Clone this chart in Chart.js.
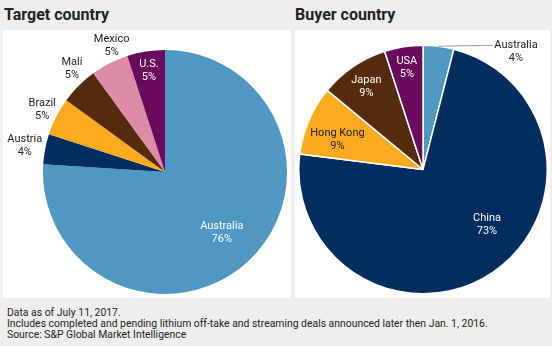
<!DOCTYPE html>
<html>
<head>
<meta charset="utf-8">
<script src="https://cdn.jsdelivr.net/npm/chart.js@4"></script>
<style>
    body {
        margin: 0;
        width: 552px;
        height: 346px;
        background: #eeeeee;
        font-family: Roboto, sans-serif;
        color: #1c1c1c;
        position: relative;
        overflow: hidden;
    }
    .title {
        position: absolute;
        top: 7px;
        font-size: 16px;
        line-height: 16px;
        font-weight: bold;
        color: #222;
    }
    .panel {
        position: absolute;
        top: 30px;
        height: 268px;
        background: #fff;
    }
    .footer {
        position: absolute;
        left: 7px;
        top: 307px;
        font-size: 10.4px;
        line-height: 11px;
        color: #1c1c1c;
    }
</style>
</head>
<body>
<div class="title" style="left: 4px;">Target country</div>
<div class="title" style="left: 295px;">Buyer country</div>
<div class="panel" style="left: 3px; width: 288px;"><canvas id="target-chart" width="288" height="268"></canvas></div>
<div class="panel" style="left: 295px; width: 255px;"><canvas id="buyer-chart" width="255" height="268"></canvas></div>
<div class="footer">
    Data as of July 11, 2017.<br>
    Includes completed and pending lithium off-take and streaming deals announced later then Jan. 1, 2016.<br>
    Source: S&amp;P Global Market Intelligence
</div>

<script>
const targetCountries = ['Australia', 'Austria', 'Brazil', 'Mali', 'Mexico', 'U.S.'];
const targetShares = [76, 4, 5, 5, 5, 5];

const buyerCountries = ['Australia', 'China', 'Hong Kong', 'Japan', 'USA'];
const buyerShares = [4, 73, 9, 9, 5];

const BLUE = '#4f98c4';
const NAVY = '#022d5f';
const ORANGE = '#fcab1f';
const BROWN = '#552a0d';
const PINK = '#de8ba8';
const PURPLE = '#6a0a5c';

// label placement per slice: distance from centre (x radius), extra turn in degrees, text colour
const targetLabelStyle = [
    { dist: 0.68, turn: 0, color: '#fff' },
    { dist: 1.17, turn: 0, color: '#1c1c1c' },
    { dist: 1.13, turn: 0, color: '#1c1c1c' },
    { dist: 1.14, turn: 3, color: '#1c1c1c' },
    { dist: 1.12, turn: 4, color: '#1c1c1c' },
    { dist: 0.84, turn: 0, color: '#fff' },
];
const buyerLabelStyle = [
    { dist: 1.21, turn: 31, color: '#1c1c1c', leader: true },
    { dist: 0.68, turn: -15, color: '#fff' },
    { dist: 0.73, turn: -4, color: '#1c1c1c' },
    { dist: 0.81, turn: 0, color: '#fff' },
    { dist: 0.83, turn: 0, color: '#fff' },
];

const sliceLabels = {
    id: 'sliceLabels',
    afterDatasetsDraw(chart, args, opts) {
        const ctx = chart.ctx;
        const meta = chart.getDatasetMeta(0);
        const values = chart.data.datasets[0].data;
        ctx.save();
        ctx.font = '11px Roboto, sans-serif';
        ctx.textAlign = 'center';
        ctx.textBaseline = 'middle';
        meta.data.forEach((arc, i) => {
            const p = arc.getProps(['x', 'y', 'startAngle', 'endAngle', 'outerRadius'], true);
            const st = opts.styles[i];
            const mid = (p.startAngle + p.endAngle) / 2;
            const a = mid + st.turn * Math.PI / 180;
            const lx = p.x + Math.cos(a) * p.outerRadius * st.dist;
            const ly = p.y + Math.sin(a) * p.outerRadius * st.dist;
            const name = chart.data.labels[i];
            if (st.leader) {
                const w = ctx.measureText(name).width;
                ctx.strokeStyle = '#9a9a9a';
                ctx.lineWidth = 1;
                ctx.beginPath();
                ctx.moveTo(p.x + Math.cos(mid) * p.outerRadius, p.y + Math.sin(mid) * p.outerRadius);
                ctx.lineTo(lx - w / 2 - 2, ly - 6);
                ctx.stroke();
            }
            ctx.fillStyle = st.color;
            ctx.fillText(name, lx, ly - 6.5);
            ctx.fillText(values[i] + '%', lx, ly + 6.5);
        });
        ctx.restore();
    }
};

function renderPie(canvasId, labels, values, colors, borderWidth, padding, styles) {
    const ctx = document.getElementById(canvasId).getContext('2d');
    new Chart(ctx, {
        type: 'pie',
        data: {
            labels: labels,
            datasets: [{
                data: values,
                backgroundColor: colors,
                borderColor: '#fff',
                borderWidth: borderWidth,
                hoverOffset: 0,
            }],
        },
        options: {
            responsive: false,
            animation: false,
            layout: { padding: padding },
            plugins: {
                legend: { display: false },
                tooltip: { enabled: false },
                sliceLabels: { styles: styles },
            },
        },
        plugins: [sliceLabels],
    });
}

renderPie('target-chart', targetCountries, targetShares,
    [BLUE, NAVY, ORANGE, BROWN, PINK, PURPLE], 0,
    { left: 40, right: 4, top: 20, bottom: 4 }, targetLabelStyle);

renderPie('buyer-chart', buyerCountries, buyerShares,
    [BLUE, NAVY, ORANGE, BROWN, PURPLE], 1.5,
    { left: 3, right: 2, top: 13, bottom: 2 }, buyerLabelStyle);
</script>
</body>
</html>
